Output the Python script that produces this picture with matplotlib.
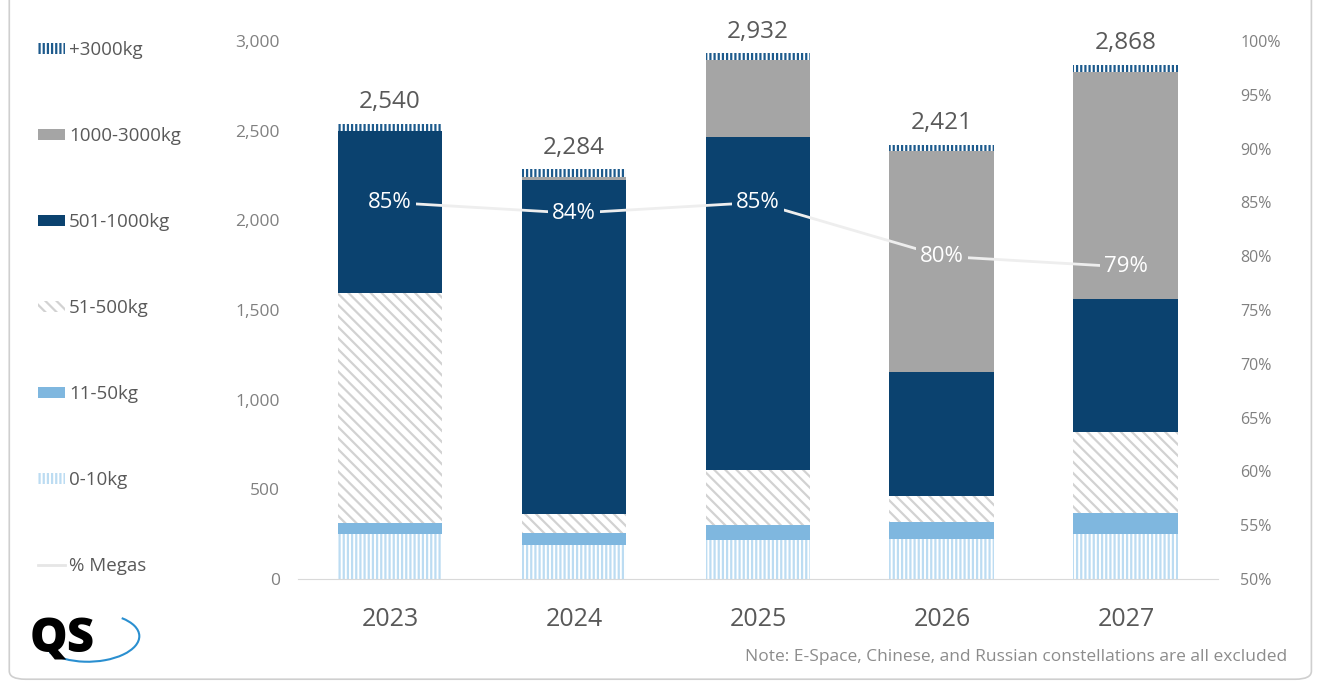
import numpy as np
import matplotlib
matplotlib.use("Agg")
import matplotlib.pyplot as plt
from matplotlib.patches import FancyBboxPatch, Arc
from matplotlib.lines import Line2D
from matplotlib.ticker import FuncFormatter

plt.rcParams['font.family'] = ['Open Sans', 'DejaVu Sans']
plt.rcParams['hatch.linewidth'] = 1.6

# data
years = ["2023", "2024", "2025", "2026", "2027"]
mass_0_10 = [251, 190, 217, 223, 251]
mass_11_50 = [61, 67, 84, 95, 117]
mass_51_500 = [1283, 105, 307, 145, 452]
mass_501_1000 = [903, 1863, 1857, 692, 742]
mass_1000_3000 = [0, 17, 429, 1232, 1266]
mass_3000_plus = [42, 42, 38, 34, 40]
totals = [2540, 2284, 2932, 2421, 2868]
pct_megas = [85, 84, 85, 80, 79]

series = [
    ("0-10kg", mass_0_10, "white", "#bcdcf2", "||||"),
    ("11-50kg", mass_11_50, "#7fb7df", "#7fb7df", None),
    ("51-500kg", mass_51_500, "white", "#d2d2d2", "\\\\\\"),
    ("501-1000kg", mass_501_1000, "#0b426f", "#0b426f", None),
    ("1000-3000kg", mass_1000_3000, "#a5a5a5", "#a5a5a5", None),
    ("+3000kg", mass_3000_plus, "white", "#1d5a8c", "||||"),
]

fig = plt.figure(figsize=(13.26, 6.84), dpi=100)
ax = fig.add_axes([0.2247, 0.1535, 0.6938, 0.7865])
x = np.arange(len(years))
width = 0.57

bottoms = np.zeros(len(years))
handles = {}
for name, vals, face, edge, hatch in series:
    bars = ax.bar(x, vals, width, bottom=bottoms, color=face, edgecolor=edge,
                  hatch=hatch, linewidth=0, label=name)
    handles[name] = bars
    bottoms = bottoms + np.array(vals)

for i, t in enumerate(totals):
    ax.annotate(f"{t:,}", (x[i], bottoms[i]), xytext=(0, 7), textcoords="offset points",
                ha="center", va="bottom", fontsize=17.5, color="#595959")

ax.set_xlim(-0.5, len(years) - 0.5)
ax.set_ylim(0, 3000)
ax.set_yticks(np.arange(0, 3001, 500))
ax.yaxis.set_major_formatter(FuncFormatter(lambda v, p: f"{int(v):,}"))
ax.set_xticks(x)
ax.set_xticklabels(years)
for s in ["top", "left", "right"]:
    ax.spines[s].set_visible(False)
ax.spines["bottom"].set_color("#d9d9d9")
ax.tick_params(axis="y", length=0, pad=13, labelsize=12.5, labelcolor="#808080")
ax.tick_params(axis="x", length=0, pad=20, labelsize=18, labelcolor="#595959")

ax2 = ax.twinx()
ax2.set_ylim(50, 100)
ax2.set_yticks(np.arange(50, 101, 5))
ax2.yaxis.set_major_formatter(FuncFormatter(lambda v, p: f"{int(v)}%"))
for s in ["top", "left", "right", "bottom"]:
    ax2.spines[s].set_visible(False)
ax2.tick_params(axis="y", length=0, pad=16, labelsize=11.5, labelcolor="#808080")
ax2.plot(x, pct_megas, color="#eeeeee", linewidth=2, zorder=3)

# labels sit on the bar colour behind them so the line breaks around them
for i, p in enumerate(pct_megas):
    v = (p - 50) / 50 * 3000
    cum = 0
    bg = "white"
    for name, vals, face, edge, hatch in series:
        if cum <= v < cum + vals[i]:
            bg = face
        cum += vals[i]
    ax2.text(x[i], p, f"{p}%", ha="center", va="center", fontsize=16, color="white",
             zorder=4, bbox=dict(facecolor=bg, edgecolor="none", pad=3))

leg_handles = [handles[s[0]] for s in series[::-1]]
leg_labels = [s[0] for s in series[::-1]]
leg_handles.append(Line2D([0], [0], color="#e6e6e6", linewidth=2))
leg_labels.append("% Megas")
fig.legend(leg_handles, leg_labels, loc="upper left", bbox_to_anchor=(0.016, 0.965),
           frameon=False, fontsize=13.5, labelcolor="#595959", handlelength=1.44,
           handleheight=0.5, handletextpad=0.2, labelspacing=3.63)

fig.text(0.971, 0.04, "Note: E-Space, Chinese, and Russian constellations are all excluded",
         ha="right", va="center", fontsize=12.5, color="#8c8c8c")

# logo
fig.text(0.022, 0.063, "QS", fontsize=34, fontweight="heavy", color="black",
         ha="left", va="center")
fig.patches.append(Arc((0.068, 0.068), 0.075, 0.07, angle=25, theta1=190, theta2=385,
                       transform=fig.transFigure, color="#2a8fd0", linewidth=1.5))

# card border
fig.patches.append(FancyBboxPatch((0.007, 0.007), 0.982, 1.1, boxstyle="round,pad=0,rounding_size=0.012",
                                  transform=fig.transFigure, facecolor="none",
                                  edgecolor="#cfcfcf", linewidth=1.2))

fig.savefig("out.png", dpi=100)
